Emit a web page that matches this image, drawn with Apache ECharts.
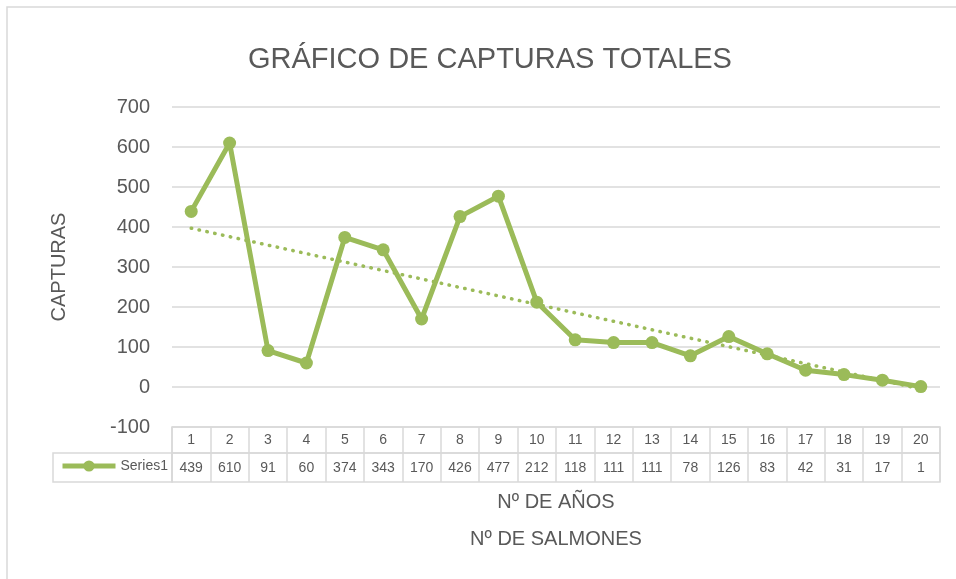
<!DOCTYPE html>
<html>
<head>
<meta charset="utf-8">
<script src="https://cdn.jsdelivr.net/npm/echarts@6/dist/echarts.min.js"></script>
<style>
html,body{margin:0;padding:0;background:#fff;}
#c{width:956px;height:579px;}
</style>
</head>
<body>
<div id="c"></div>
<script>
var titleText = 'GRÁFICO DE CAPTURAS TOTALES';
var yAxisTitle = 'CAPTURAS';
var xAxisTitle = 'Nº DE AÑOS\nNº DE SALMONES';
var seriesName = 'Series1';
var categories = ['1','2','3','4','5','6','7','8','9','10','11','12','13','14','15','16','17','18','19','20'];
var values = [439, 610, 91, 60, 374, 343, 170, 426, 477, 212, 118, 111, 111, 78, 126, 83, 42, 31, 17, 1];
// linear trendline end points (first and last category)
var trendStart = 397;
var trendEnd = -5;
var yMin = -100, yMax = 700, yStep = 100;

var trendData = categories.map(function (c, i) {
  if (i === 0) return trendStart;
  if (i === categories.length - 1) return trendEnd;
  return null;
});

var green = '#9BBB59';
var grey = '#595959';
var gridLine = '#d9d9d9';
var font = 'Liberation Sans, Arial, sans-serif';

var chart = echarts.init(document.getElementById('c'), null, {renderer: 'canvas'});
chart.setOption({
  animation: false,
  backgroundColor: '#fff',
  textStyle: {fontFamily: font},
  graphic: [{
    type: 'rect', silent: true, z: -10,
    shape: {x: 7, y: 7, width: 990, height: 620},
    style: {fill: 'none', stroke: gridLine, lineWidth: 1.5}
  }],
  title: {
    text: titleText, left: 243, top: 40,
    textStyle: {fontSize: 29, fontWeight: 'normal', color: grey, fontFamily: font}
  },
  legend: {
    data: [seriesName], left: 60, top: 459, padding: 0,
    itemWidth: 53, itemHeight: 14,
    lineStyle: {width: 5},
    textStyle: {fontSize: 14, color: grey, fontFamily: font},
    selectedMode: false
  },
  grid: [
    {left: 172, width: 768, top: 107, height: 320},
    {left: 172, width: 768, top: 427, height: 26, show: true, borderColor: gridLine, borderWidth: 1.5},
    {left: 172, width: 768, top: 453, height: 29, show: true, borderColor: gridLine, borderWidth: 1.5},
    {left: 53, width: 119, top: 453, height: 29, show: true, borderColor: gridLine, borderWidth: 1.5}
  ],
  xAxis: [
    {gridIndex: 0, type: 'category', data: categories, boundaryGap: true,
     axisLine: {show: false}, axisTick: {show: false}, axisLabel: {show: false}, splitLine: {show: false}},
    {gridIndex: 1, type: 'category', data: categories, boundaryGap: true,
     axisLine: {show: false}, axisTick: {show: false},
     splitLine: {show: true, interval: 0, lineStyle: {color: gridLine, width: 1.5}},
     axisLabel: {inside: true, margin: 6, interval: 0, fontSize: 14, color: grey, fontFamily: font}},
    {gridIndex: 2, type: 'category', data: values.map(String), boundaryGap: true,
     axisLine: {show: false}, axisTick: {show: false},
     splitLine: {show: true, interval: 0, lineStyle: {color: gridLine, width: 1.5}},
     axisLabel: {inside: true, margin: 7, interval: 0, fontSize: 14, color: grey, fontFamily: font},
     name: xAxisTitle, nameLocation: 'middle', nameGap: 0,
     nameTextStyle: {fontSize: 20, lineHeight: 37, color: grey, fontFamily: font}},
    {gridIndex: 3, type: 'category', data: [''], show: false}
  ],
  yAxis: [
    {gridIndex: 0, type: 'value', min: yMin, max: yMax, interval: yStep,
     axisLine: {show: false}, axisTick: {show: false},
     axisLabel: {fontSize: 20, color: grey, margin: 22, fontFamily: font},
     splitLine: {show: true, lineStyle: {color: gridLine, width: 1.5}},
     name: yAxisTitle, nameLocation: 'middle', nameGap: 103, nameRotate: 90,
     nameTextStyle: {fontSize: 20, color: grey, fontFamily: font}},
    {gridIndex: 1, type: 'value', show: false},
    {gridIndex: 2, type: 'value', show: false},
    {gridIndex: 3, type: 'value', show: false}
  ],
  series: [
    {name: 'trend', type: 'line', xAxisIndex: 0, yAxisIndex: 0, data: trendData,
     connectNulls: true, showSymbol: false, symbol: 'none', z: 2,
     lineStyle: {color: green, width: 3.5, type: [0.5, 7.5], cap: 'round'}},
    {name: seriesName, type: 'line', xAxisIndex: 0, yAxisIndex: 0, data: values,
     symbol: 'circle', symbolSize: 13, z: 3,
     itemStyle: {color: green},
     lineStyle: {color: green, width: 5, join: 'round'}}
  ]
});
</script>
</body>
</html>
